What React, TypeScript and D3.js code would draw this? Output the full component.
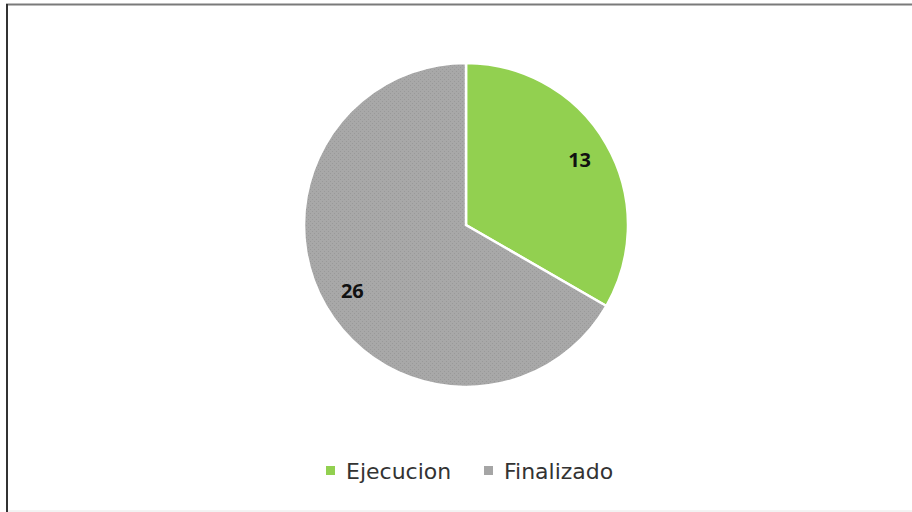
import React from "react";
import * as d3 from "d3";

const categories = ["Ejecucion", "Finalizado"];
const values = [13, 26];
const colors = ["#92D050", "#A5A5A5"];

export default function App() {
  const W = 912, H = 512;
  const cx = 466, cy = 225, r = 162;
  const data = categories.map((c, i) => ({ c, v: values[i], col: colors[i] }));
  const pie = d3.pie<any>().value((d) => d.v).sort(null);
  const arcs = pie(data);
  const arc = d3.arc<any>().innerRadius(0).outerRadius(r);
  const labelArc = d3.arc<any>().innerRadius(r * 0.81).outerRadius(r * 0.81);
  const legendX = [326, 484];
  return (
    <div style={{ position: "absolute", left: 0, top: 0, width: W, height: H }}>
      <svg width={W} height={H} style={{ display: "block" }}>
        <defs>
          <pattern id="dots" width="4" height="4" patternUnits="userSpaceOnUse">
            <rect width="4" height="4" fill="#A8A8A8" />
            <rect x="0" y="0" width="1" height="1" fill="#999" />
            <rect x="2" y="2" width="1" height="1" fill="#999" />
          </pattern>
        </defs>
        <rect x={0} y={0} width={W} height={H} fill="#fff" />
        <line x1={6} x2={W} y1={4.5} y2={4.5} stroke="#7a7a7a" strokeWidth={2} />
        <line x1={7} x2={7} y1={4} y2={H} stroke="#333" strokeWidth={2} />
        <line x1={8} x2={W} y1={511} y2={511} stroke="#e6e6e6" strokeWidth={1} />
        <g transform={`translate(${cx},${cy})`}>
          {arcs.map((a, i) => (
            <path key={i} d={arc(a) || ""} fill={i === 1 ? "url(#dots)" : a.data.col} stroke="#fff" strokeWidth={2.5} strokeLinejoin="miter" />
          ))}
          {arcs.map((a, i) => {
            const [x, y] = labelArc.centroid(a);
            return (
              <text key={i} x={x} y={y} textAnchor="middle" dominantBaseline="central"
                fontFamily="'Open Sans', 'Liberation Sans', sans-serif" fontWeight="bold" fontSize={20} fill="#111">
                {a.data.v}
              </text>
            );
          })}
        </g>
        {data.map((d, i) => (
          <g key={i}>
            <rect x={legendX[i]} y={466} width={9} height={9} fill={d.col} />
            <text x={legendX[i] + 20} y={479} fontFamily="'DejaVu Sans', sans-serif" fontSize={22} fill="#333">
              {d.c}
            </text>
          </g>
        ))}
      </svg>
    </div>
  );
}
